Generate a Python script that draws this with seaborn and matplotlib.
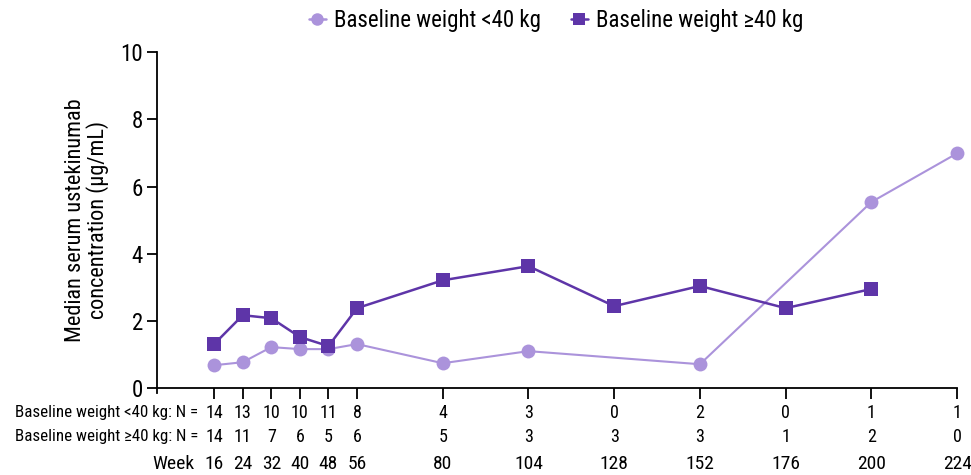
import numpy as np
import pandas as pd
import seaborn as sns
import matplotlib.pyplot as plt
import matplotlib.transforms as mtransforms

sns.set_style("ticks")
plt.rcParams['font.family'] = ['Roboto Condensed', 'Roboto', 'DejaVu Sans']
plt.rcParams['text.color'] = 'black'
plt.rcParams['axes.labelcolor'] = 'black'
plt.rcParams['xtick.color'] = 'black'
plt.rcParams['ytick.color'] = 'black'
plt.rcParams['axes.edgecolor'] = 'black'

weeks = [16, 24, 32, 40, 48, 56, 80, 104, 128, 152, 176, 200, 224]
conc_lt40 = [0.68, 0.77, 1.22, 1.16, 1.16, 1.31, 0.74, 1.10, np.nan, 0.71, np.nan, 5.54, 6.99]
conc_ge40 = [1.31, 2.17, 2.08, 1.52, 1.25, 2.38, 3.21, 3.63, 2.44, 3.04, 2.38, 2.95, np.nan]
n_lt40 = [14, 13, 10, 10, 11, 8, 4, 3, 0, 2, 0, 1, 1]
n_ge40 = [14, 11, 7, 6, 5, 6, 5, 3, 3, 3, 1, 2, 0]

grp_lt = "Baseline weight <40 kg"
grp_ge = "Baseline weight \u226540 kg"

df = pd.concat([
    pd.DataFrame({"week": weeks, "conc": conc_lt40, "group": grp_lt}),
    pd.DataFrame({"week": weeks, "conc": conc_ge40, "group": grp_ge}),
]).dropna()

light = "#AB93DB"
dark = "#5E35A8"

fig = plt.figure(figsize=(9.71, 4.75), dpi=100)
ax = fig.add_axes([0.1617, 0.183, 0.824, 0.707])

sns.lineplot(data=df, x="week", y="conc", hue="group", style="group",
             palette={grp_lt: light, grp_ge: dark},
             markers={grp_lt: "o", grp_ge: "s"}, dashes=False,
             markersize=10, markeredgewidth=0, linewidth=1.8,
             ax=ax, legend=False)
for ln in ax.lines:
    ln.set_clip_on(False)
ax.lines[0].set_linewidth(1.5)

ax.set_xlim(0, 224)
ax.set_ylim(0, 10)
ax.set_yticks([0, 2, 4, 6, 8, 10])
ax.set_xticks(weeks)
ax.set_xticklabels([])
ax.tick_params(axis="y", labelsize=16.5, length=7, width=1.3, pad=3)
ax.tick_params(axis="x", length=8, width=1.3)
for s in ["top", "right"]:
    ax.spines[s].set_visible(False)
for s in ["left", "bottom"]:
    ax.spines[s].set_linewidth(1.3)
ax.spines["left"].set_bounds(-0.15, 10)
ax.set_xlabel("")
ax.set_ylabel("Median serum ustekinumab\nconcentration (\u00b5g/mL)", fontsize=16,
              labelpad=8, linespacing=1.0)

# N rows and week row under the axis
trans = mtransforms.blended_transform_factory(ax.transData, fig.transFigure)
row_y = [1 - 413 / 475, 1 - 437 / 475, 1 - 464 / 475]
for w, a, b in zip(weeks, n_lt40, n_ge40):
    ax.text(w, row_y[0], str(a), transform=trans, ha="center", va="center", fontsize=13)
    ax.text(w, row_y[1], str(b), transform=trans, ha="center", va="center", fontsize=13)
    ax.text(w, row_y[2], str(w), transform=trans, ha="center", va="center", fontsize=14)
fig.text(198 / 971, row_y[0], "Baseline weight <40 kg: N =", ha="right", va="center", fontsize=12.2)
fig.text(198 / 971, row_y[1], "Baseline weight \u226540 kg: N =", ha="right", va="center", fontsize=12.2)
fig.text(194 / 971, row_y[2], "Week", ha="right", va="center", fontsize=14)

handles = [
    plt.Line2D([], [], color=light, marker="o", markersize=9, markeredgewidth=0, linewidth=1.8),
    plt.Line2D([], [], color=dark, marker="s", markersize=8.5, markeredgewidth=0, linewidth=1.8),
]
fig.legend(handles, [grp_lt, grp_ge], loc="center", bbox_to_anchor=(556 / 971, 1 - 21 / 475),
           ncol=2, frameon=False, fontsize=16.5, handlelength=0.75, handletextpad=0.35,
           columnspacing=1.3)

fig.savefig("out.png", dpi=100)
